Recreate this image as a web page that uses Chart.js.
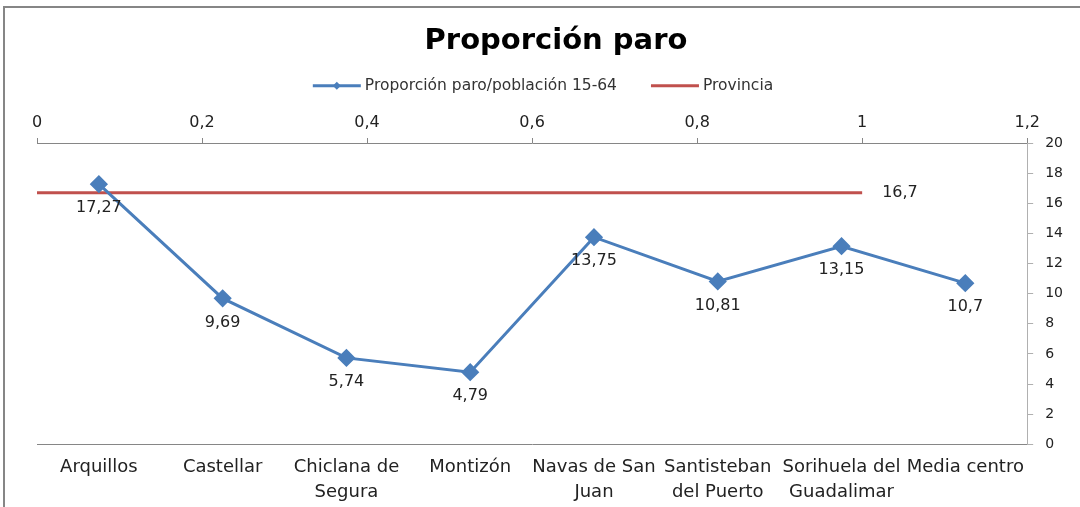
<!DOCTYPE html>
<html>
<head>
<meta charset="utf-8">
<script src="https://cdn.jsdelivr.net/npm/chart.js@4/dist/chart.umd.min.js"></script>
<style>
    html, body { margin: 0; padding: 0; background: #fff; }
    #wrap { position: relative; width: 1080px; height: 507px; }
</style>
</head>
<body>
<div id="wrap"><canvas id="chart" width="1080" height="507"></canvas></div>
<script>
// Data
const municipios = ['Arquillos', 'Castellar', ['Chiclana de', 'Segura'], 'Montizón', ['Navas de San', 'Juan'], ['Santisteban', 'del Puerto'], ['Sorihuela del', 'Guadalimar'], 'Media centro'];
const proporcion = [17.27, 9.69, 5.74, 4.79, 13.75, 10.81, 13.15, 10.7];
const provinciaX = [0, 1];
const provinciaY = [16.7, 16.7];

const BLUE = '#4a7ebb';
const RED = '#c0504d';
const SANS = '"DejaVu Sans", Verdana, sans-serif';
const fmt = v => String(v).replace('.', ',');

// Frame, legend and value labels
const extras = {
    id: 'extras',
    beforeDraw(chart) {
        const ctx = chart.ctx;
        ctx.save();
        ctx.strokeStyle = '#868686';
        ctx.lineWidth = 2;
        ctx.beginPath();
        ctx.moveTo(4, 507);
        ctx.lineTo(4, 7);
        ctx.lineTo(1080, 7);
        ctx.stroke();
        ctx.restore();
    },
    afterDraw(chart) {
        const ctx = chart.ctx;
        const ds = chart.data.datasets;
        ctx.save();
        ctx.font = '15.5px ' + SANS;
        ctx.textBaseline = 'middle';
        ctx.textAlign = 'left';
        const lineW = 48, gapText = 4, gapItem = 34;
        const widths = ds.map(d => lineW + gapText + ctx.measureText(d.label).width);
        const total = widths.reduce((a, b) => a + b, 0) + gapItem * (ds.length - 1);
        let x = (chart.width - total) / 2 + 3;
        const y = chart.titleBlock.bottom - 21;
        ds.forEach((d, i) => {
            ctx.strokeStyle = d.borderColor;
            ctx.lineWidth = 3;
            ctx.beginPath();
            ctx.moveTo(x, y);
            ctx.lineTo(x + lineW, y);
            ctx.stroke();
            if (d.pointRadius > 0) {
                const cx = x + lineW / 2;
                ctx.fillStyle = d.borderColor;
                ctx.beginPath();
                ctx.moveTo(cx, y - 4);
                ctx.lineTo(cx + 4, y);
                ctx.lineTo(cx, y + 4);
                ctx.lineTo(cx - 4, y);
                ctx.closePath();
                ctx.fill();
            }
            ctx.fillStyle = '#333';
            ctx.fillText(d.label, x + lineW + gapText, y);
            x += widths[i] + gapItem;
        });
        ctx.restore();
    },
    afterDatasetsDraw(chart) {
        const ctx = chart.ctx;
        ctx.save();
        ctx.font = '16px ' + SANS;
        ctx.fillStyle = '#222';
        ctx.textAlign = 'center';
        ctx.textBaseline = 'middle';
        chart.getDatasetMeta(0).data.forEach((pt, i) => {
            ctx.fillText(fmt(proporcion[i]), pt.x, pt.y + 24);
        });
        const red = chart.getDatasetMeta(1).data;
        const last = red[red.length - 1];
        ctx.textAlign = 'left';
        ctx.fillText(fmt(provinciaY[provinciaY.length - 1]), last.x + 20, last.y);
        ctx.restore();
    }
};

new Chart(document.getElementById('chart'), {
    type: 'line',
    data: {
        labels: municipios,
        datasets: [
            {
                label: 'Proporción paro/población 15-64',
                data: proporcion,
                xAxisID: 'x',
                yAxisID: 'y',
                borderColor: BLUE,
                backgroundColor: BLUE,
                borderWidth: 3,
                pointStyle: 'rectRot',
                pointRadius: 7,
                pointBackgroundColor: BLUE,
                pointBorderColor: BLUE,
                tension: 0
            },
            {
                label: 'Provincia',
                data: provinciaX.map((x, i) => ({ x, y: provinciaY[i] })),
                xAxisID: 'x2',
                yAxisID: 'y',
                borderColor: RED,
                backgroundColor: RED,
                borderWidth: 3,
                pointRadius: 0,
                tension: 0
            }
        ]
    },
    options: {
        responsive: false,
        animation: false,
        layout: { padding: { left: 37, right: 5, top: 18, bottom: 0 } },
        plugins: {
            title: {
                display: true,
                text: 'Proporción paro',
                color: '#000',
                font: { family: SANS, size: 29, weight: 'bold' },
                padding: { top: 6, bottom: 48 }
            },
            legend: { display: false },
            tooltip: { enabled: false }
        },
        scales: {
            x: {
                type: 'category',
                position: 'bottom',
                offset: true,
                grid: { display: false },
                border: { display: true, color: '#868686', width: 1 },
                ticks: {
                    color: '#222',
                    font: { family: SANS, size: 18, lineHeight: 1.35 },
                    maxRotation: 0,
                    autoSkip: false,
                    padding: 3
                }
            },
            x2: {
                type: 'linear',
                position: 'top',
                min: 0,
                max: 1.2,
                grid: { drawOnChartArea: false, drawTicks: true, tickLength: 5, color: '#868686' },
                border: { display: true, color: '#868686', width: 1 },
                ticks: {
                    stepSize: 0.2,
                    color: '#222',
                    font: { family: SANS, size: 16 },
                    padding: 6,
                    callback: v => fmt(Math.round(v * 10) / 10)
                }
            },
            y: {
                position: 'right',
                min: 0,
                max: 20,
                grid: { drawOnChartArea: false, drawTicks: true, tickLength: 6, color: '#b0b0b0' },
                border: { display: true, color: '#b0b0b0', width: 1 },
                ticks: {
                    stepSize: 2,
                    color: '#222',
                    font: { family: SANS, size: 14 },
                    padding: 12
                }
            }
        }
    },
    plugins: [extras]
});
</script>
</body>
</html>
